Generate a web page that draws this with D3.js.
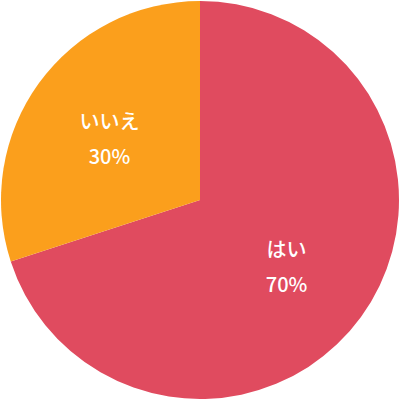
<!DOCTYPE html>
<html>
<head>
<meta charset="utf-8">
<script src="https://cdn.jsdelivr.net/npm/d3@7"></script>
<style>
  html, body { margin: 0; padding: 0; background: #ffffff; }
  #chart { width: 400px; height: 400px; }
  text { font-family: "Noto Sans CJK JP", "Noto Sans", sans-serif; }
</style>
</head>
<body>
<div id="chart"></div>
<script>
const labels = ['はい', 'いいえ']
const values = [70, 30]
const colors = ['#e04b5f', '#fb9f1c']

const W = 400
const H = 400
const R = 199

const svg = d3.select('#chart')
  .append('svg')
  .attr('width', W)
  .attr('height', H)

const g = svg.append('g').attr('transform', `translate(${W / 2},${H / 2})`)

const data = labels.map((label, i) => ({ label, value: values[i], color: colors[i] }))

const pie = d3.pie().value((d) => d.value).sort(null)
const arc = d3.arc().innerRadius(0).outerRadius(R)
const labelArc = d3.arc().innerRadius(R * 0.55).outerRadius(R * 0.55)

const slices = g.selectAll('g.slice')
  .data(pie(data))
  .join('g')
  .attr('class', 'slice')

slices.append('path')
  .attr('d', arc)
  .attr('fill', (d) => d.data.color)

const txt = slices.append('text')
  .attr('transform', (d) => `translate(${labelArc.centroid(d)})`)
  .attr('text-anchor', 'middle')
  .attr('fill', '#ffffff')
  .attr('font-size', 20)
  .attr('font-weight', 500)

txt.append('tspan')
  .attr('x', -2)
  .attr('y', -7)
  .text((d) => d.data.label)

txt.append('tspan')
  .attr('x', -2)
  .attr('y', 28)
  .text((d) => `${d.data.value}%`)
</script>
</body>
</html>
